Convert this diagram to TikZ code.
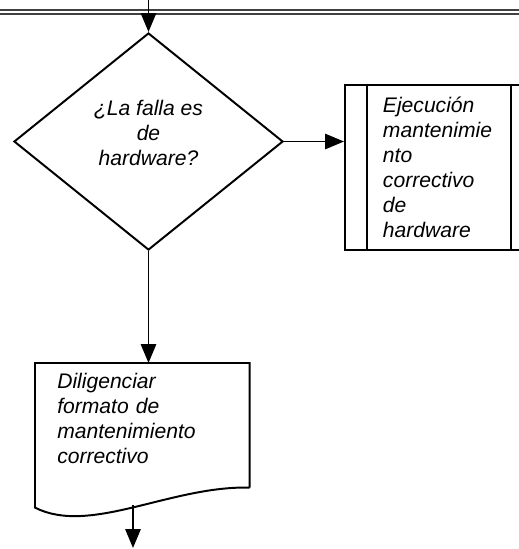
\documentclass[tikz,border=0pt]{standalone}
\usepackage{fontspec}
\setmainfont{Liberation Sans}
\usetikzlibrary{shapes.geometric, arrows.meta, positioning}

\tikzset{
  flecha/.style={-{Triangle[length=0.47cm,width=0.38cm]}, line width=1.4pt},
  texto/.style={font=\fontsize{15}{17.8}\selectfont\itshape},
  decision/.style={diamond, draw, line width=1.4pt, minimum width=6.725cm, minimum height=5.425cm, inner sep=0pt},
  subproceso/.style={rectangle, draw, line width=1.4pt, minimum height=4.125cm, text width=2.8cm, inner xsep=0.95cm, align=left, texto},
  documento/.style={rectangle, minimum height=2.75cm, text width=4.25cm, inner xsep=0.55cm, align=left, texto}
}

\begin{document}
\begin{tikzpicture}[x=0.025cm, y=-0.025cm]

\clip (0,0) rectangle (519,549);

% Linea doble superior
\draw[double, double distance=2.1pt, line width=0.9pt, black!75] (0,12) -- (519,12);

% Decision
\node[decision] (dec) at (148.5,141.5) {};
\node[texto, align=center] (dectexto) at ([yshift=0.225cm]dec.center) {¿La falla es\\de\\hardware?};

% Entrada
\coordinate (entrada) at (148.5,0);
\draw[flecha] (entrada) -- (dec.north);

% Subproceso de hardware
\node[subproceso] (proc) at (439,167.5) {Ejecución\\mantenimie\\nto\\correctivo\\de\\hardware};
\draw[line width=1.4pt] ([xshift=0.575cm]proc.north west) -- ([xshift=0.575cm]proc.south west);
\draw[line width=1.4pt] ([xshift=-0.575cm]proc.north east) -- ([xshift=-0.575cm]proc.south east);
\draw[flecha] (dec.east) -- (dec.east -| proc.west);

% Documento
\node[documento, anchor=north west] (doc) at (35,363) {Diligenciar\\formato de\\mantenimiento\\correctivo};
\draw[line width=1.4pt] ([yshift=-0.35cm]doc.south east) -- (doc.north east) -- (doc.north west)
  -- ([yshift=-0.85cm]doc.south west) .. controls +(55,28) and +(-79,-2) .. ([yshift=-0.35cm]doc.south east);
\draw[flecha] (dec.south) -- (dec.south |- doc.north);

% Salida
\coordinate (pie) at (133,505);
\coordinate (fin) at (133,548);
\draw[flecha] (pie) -- (fin);

\end{tikzpicture}
\end{document}
